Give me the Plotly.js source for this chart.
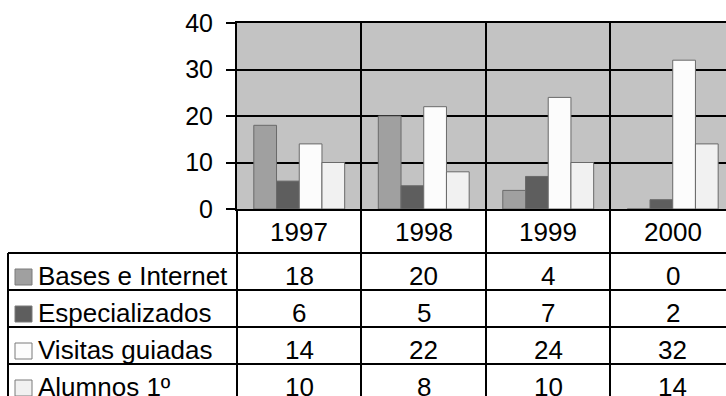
<!DOCTYPE html>
<html>
<head>
<meta charset="utf-8">
<script src="https://cdn.plot.ly/plotly-3.0.1.min.js"></script>
<style>
  html, body { margin: 0; padding: 0; background: #ffffff; overflow: hidden; }
  #chart { width: 726px; height: 396px; }
</style>
</head>
<body>
<div id="chart"></div>
<script>
// Categories and series
const years = ['1997', '1998', '1999', '2000'];
const seriesNames = ['Bases e Internet', 'Especializados', 'Visitas guiadas', 'Alumnos 1º'];
const basesInternet = [18, 20, 4, 0];
const especializados = [6, 5, 7, 2];
const visitasGuiadas = [14, 22, 24, 32];
const alumnos1 = [10, 8, 10, 14];
const yTicks = [0, 10, 20, 30, 40];

const seriesValues = [basesInternet, especializados, visitasGuiadas, alumnos1];
const seriesColors = ['#a0a0a0', '#5e5e5e', '#fcfcfc', '#f1f1f1'];

// Frame geometry (pixels)
const W = 726, H = 396;
const M = { l: 237, r: 0, t: 23, b: 187 };
const plotW = W - M.l - M.r;
const plotH = H - M.t - M.b;
const axisY = H - M.b;              // pixel row of the category axis
const headerH = 44;                 // year row under the axis
const rowH = 37;                    // data table rows
const FONT = 'Liberation Sans, Arial, sans-serif';
const FS_TICK = 25;
const FS_TABLE = 26;

const px2x = px => (px - M.l) / plotW;
const px2y = py => (axisY - py) / plotH;

const traces = seriesValues.map((vals, i) => ({
  type: 'bar',
  name: seriesNames[i],
  x: years,
  y: vals,
  marker: { color: seriesColors[i], line: { color: '#6a6a6a', width: 1 } },
  hoverinfo: 'x+y+name'
}));

const shapes = [];
const annotations = [];

// Year labels in the header row (category axis positions are serial indices)
const headerMid = axisY + headerH / 2;
years.forEach((yr, c) => {
  annotations.push({
    xref: 'x', yref: 'paper', x: c, y: px2y(headerMid + 1),
    text: yr, showarrow: false, xanchor: 'center', yanchor: 'middle',
    font: { family: FONT, size: FS_TABLE, color: '#000' }
  });
});

// Data table: one row per series, with key swatch, name and values
const tableTop = axisY + headerH;
const tableLeft = 8;
for (let r = 0; r <= seriesNames.length; r++) {
  const yy = px2y(tableTop + r * rowH);
  shapes.push({
    type: 'line', xref: 'paper', yref: 'paper',
    x0: px2x(tableLeft), x1: 1.05, y0: yy, y1: yy,
    line: { color: '#000', width: 2 }
  });
}
shapes.push({
  type: 'line', xref: 'paper', yref: 'paper',
  x0: px2x(tableLeft), x1: px2x(tableLeft),
  y0: px2y(tableTop), y1: px2y(H + 10),
  line: { color: '#000', width: 2 }
});

seriesNames.forEach((name, r) => {
  const mid = tableTop + r * rowH + rowH / 2;
  shapes.push({
    type: 'rect', xref: 'paper', yref: 'paper',
    x0: px2x(15), x1: px2x(32),
    y0: px2y(mid + 5.5 - 8), y1: px2y(mid + 5.5 + 8),
    fillcolor: seriesColors[r], line: { color: '#7a7a7a', width: 1 }
  });
  annotations.push({
    xref: 'paper', yref: 'paper', x: px2x(36), y: px2y(mid + 4),
    text: name, showarrow: false, xanchor: 'left', yanchor: 'middle',
    font: { family: FONT, size: FS_TABLE, color: '#000' }
  });
  seriesValues[r].forEach((v, c) => {
    annotations.push({
      xref: 'x', yref: 'paper', x: c, y: px2y(mid + 4),
      text: String(v), showarrow: false, xanchor: 'center', yanchor: 'middle',
      font: { family: FONT, size: FS_TABLE, color: '#000' }
    });
  });
});

const layout = {
  width: W, height: H,
  margin: { l: M.l, r: M.r, t: M.t, b: M.b, pad: 0 },
  paper_bgcolor: '#ffffff',
  plot_bgcolor: '#c3c3c3',
  showlegend: false,
  barmode: 'group',
  bargap: 0.27,
  bargroupgap: 0,
  xaxis: {
    type: 'category',
    categoryarray: years,
    range: [-0.5, 3.428],
    tickson: 'boundaries',
    ticks: 'outside', ticklen: 192, tickwidth: 2, tickcolor: '#000',
    showticklabels: false,
    showgrid: true, gridcolor: '#000', gridwidth: 2,
    showline: true, linecolor: '#000', linewidth: 2, mirror: true,
    zeroline: false, fixedrange: true
  },
  yaxis: {
    range: [0, 40],
    tickvals: yTicks,
    ticktext: yTicks.map(String),
    ticks: 'outside', ticklen: 9, tickwidth: 2, tickcolor: '#000',
    ticklabelstandoff: 8,
    tickfont: { family: FONT, size: FS_TICK, color: '#000' },
    showgrid: true, gridcolor: '#000', gridwidth: 2,
    showline: true, linecolor: '#000', linewidth: 2,
    zeroline: false, fixedrange: true
  },
  shapes: shapes,
  annotations: annotations
};

Plotly.newPlot('chart', traces, layout, { displayModeBar: false, staticPlot: true });
</script>
</body>
</html>
